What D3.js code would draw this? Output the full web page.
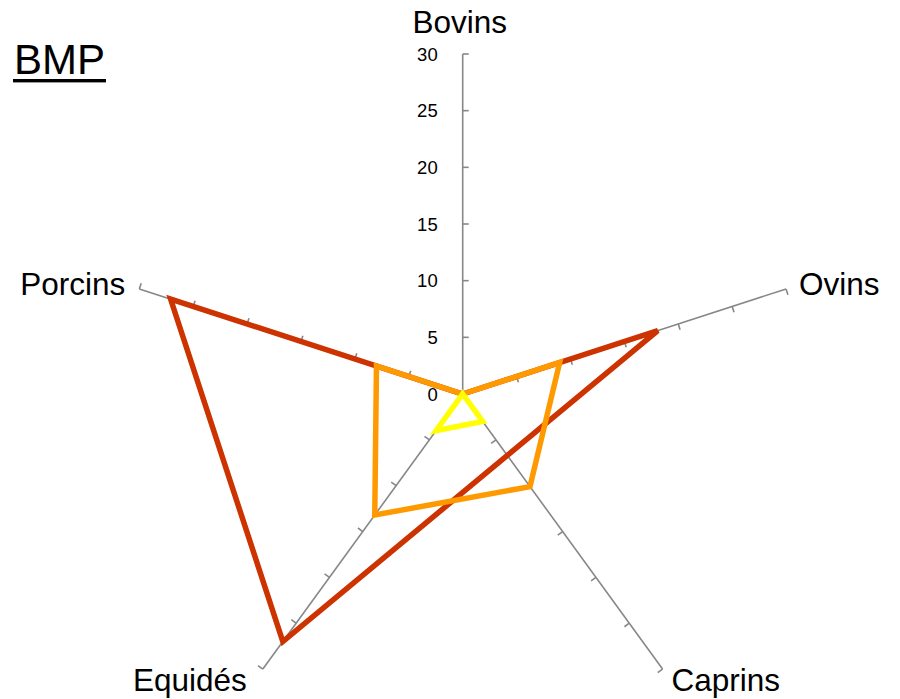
<!DOCTYPE html>
<html>
<head>
<meta charset="utf-8">
<script src="https://cdn.jsdelivr.net/npm/d3@7"></script>
<style>
  body { margin: 0; background: #fff; }
  svg { display: block; font-family: "Liberation Sans", Arial, sans-serif; }
</style>
</head>
<body>
<svg id="chart" width="900" height="699"></svg>
<script>
// axes of the radar, clockwise from top
const categories = ['Bovins', 'Ovins', 'Caprins', 'Equidés', 'Porcins'];
const tickValues = [0, 5, 10, 15, 20, 25, 30];

// series values (same order as categories)
const redValues = [0, 18.1, 6.7, 27, 27.1];
const orangeValues = [0, 9, 10.1, 13.2, 8];
const yellowValues = [0, 0, 3, 4, 0];

const seriesList = [
    { values: redValues, color: '#CC3300' },
    { values: orangeValues, color: '#FF9900' },
    { values: yellowValues, color: '#FFFF00' }
];

const svg = d3.select('#chart');
const cx = 462.7, cy = 394, radius = 340;

const r = d3.scaleLinear().domain([0, 30]).range([0, radius]);
const angle = d3.scalePoint().domain(categories).range([0, 2 * Math.PI * 4 / 5]);

function point(cat, v) {
    const a = angle(cat);
    return [cx + r(v) * Math.sin(a), cy - r(v) * Math.cos(a)];
}

// title
svg.append('text')
    .attr('x', 14)
    .attr('y', 74)
    .attr('font-size', 42)
    .attr('fill', '#000')
    .text('BMP');
svg.append('rect')
    .attr('x', 13).attr('y', 79)
    .attr('width', 93).attr('height', 3.4)
    .attr('fill', '#000');

// axis spokes and ticks
const axisG = svg.append('g');
categories.forEach(cat => {
    const a = angle(cat);
    const end = point(cat, 30);
    axisG.append('line')
        .attr('x1', cx).attr('y1', cy)
        .attr('x2', end[0]).attr('y2', end[1])
        .attr('stroke', '#878787')
        .attr('stroke-width', 1.6);
    // ticks stick out on the clockwise side
    const tx = Math.cos(a) * 6, ty = Math.sin(a) * 6;
    tickValues.slice(1).forEach(v => {
        const p = point(cat, v);
        axisG.append('line')
            .attr('x1', p[0]).attr('y1', p[1])
            .attr('x2', p[0] + tx).attr('y2', p[1] + ty)
            .attr('stroke', '#878787')
            .attr('stroke-width', 1.6);
    });
});

// value labels on the first axis
svg.append('g').selectAll('text')
    .data(tickValues)
    .join('text')
    .attr('x', cx - 25)
    .attr('y', d => cy - r(d))
    .attr('dy', '0.36em')
    .attr('text-anchor', 'end')
    .attr('font-size', 18.5)
    .attr('fill', '#000')
    .text(d => d);

// category labels
svg.append('g').selectAll('text')
    .data(categories)
    .join('text')
    .attr('font-size', 31.5)
    .attr('fill', '#000')
    .attr('text-anchor', d => {
        const s = Math.sin(angle(d));
        return Math.abs(s) < 0.01 ? 'middle' : (s > 0 ? 'start' : 'end');
    })
    .attr('x', d => {
        const s = Math.sin(angle(d));
        const c = Math.cos(angle(d));
        const e = point(d, 30);
        if (Math.abs(s) < 0.01) return e[0] - 3;
        if (c < 0) return e[0] + (s > 0 ? 9 : -16);
        return e[0] + (s > 0 ? 13 : -14);
    })
    .attr('y', d => {
        const c = Math.cos(angle(d));
        const e = point(d, 30);
        if (c > 0.99) return e[1] - 21;
        return c > 0 ? e[1] + 6 : e[1] + 22;
    })
    .text(d => d);

// series polygons
const line = d3.line().curve(d3.curveLinearClosed);
svg.append('g').selectAll('path')
    .data(seriesList)
    .join('path')
    .attr('d', s => line(categories.map((c, i) => point(c, s.values[i]))))
    .attr('fill', 'none')
    .attr('stroke', s => s.color)
    .attr('stroke-width', 5.5)
    .attr('stroke-linejoin', 'miter');
</script>
</body>
</html>
